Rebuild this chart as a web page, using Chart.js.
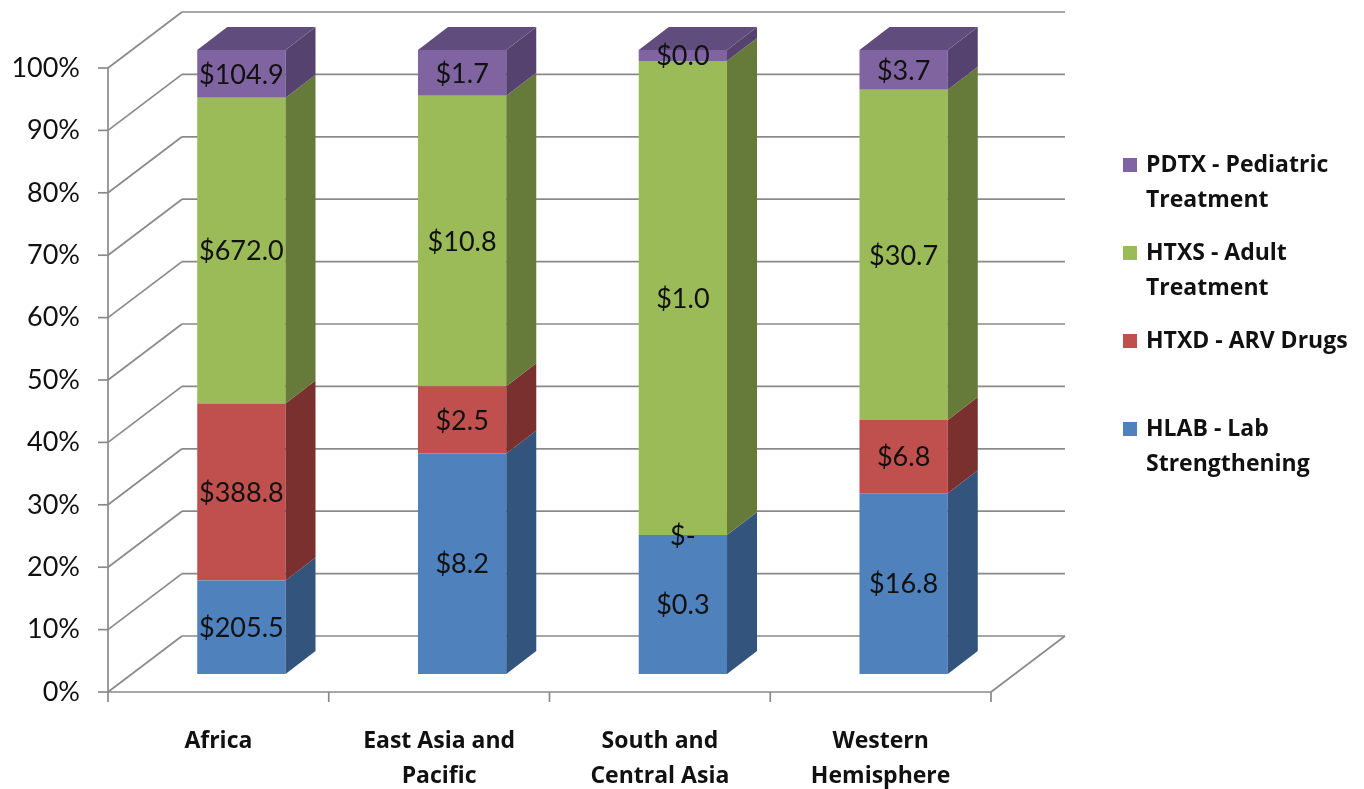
<!DOCTYPE html>
<html>
<head>
<meta charset="utf-8">
<script src="https://cdn.jsdelivr.net/npm/chart.js@4"></script>
<style>
  html, body { margin: 0; padding: 0; background: #fff; }
  canvas { display: block; }
</style>
</head>
<body>
<canvas id="chart" width="1364" height="789"></canvas>
<script>
// Spending by region, US$ millions, shown as share of each region's total
const regions = [['Africa'], ['East Asia and', 'Pacific'], ['South and', 'Central Asia'], ['Western', 'Hemisphere']];
const hlab = [205.5, 8.2, 0.29, 16.8];
const htxd = [388.8, 2.5, 0, 6.8];
const htxs = [672.0, 10.8, 0.99, 30.7];
const pdtx = [104.9, 1.7, 0.023, 3.7];
const seriesNames = [['HLAB - Lab', 'Strengthening'], ['HTXD - ARV Drugs'], ['HTXS - Adult', 'Treatment'], ['PDTX - Pediatric', 'Treatment']];

const faceColors = ['#4f81bd', '#c0504d', '#9bbb59', '#8064a2'];
const sideColors = ['#33557d', '#7a302e', '#667a3a', '#55426f'];
const topColor = '#614d7d';

const FONT = 'Lato, "Open Sans", sans-serif';
const BOLD_FONT = '"Open Sans", Lato, sans-serif';
const TEXT = '#111';
const GRID = '#8a8a8a';

// bar plane -> front wall, front wall -> back wall, bar front -> bar back
const FRONT = { dx: -23, dy: 18 };
const DEPTH = { dx: 74, dy: -56 };
const BAR = { dx: 30, dy: -23 };

const raw = [hlab, htxd, htxs, pdtx];
const totals = regions.map((r, i) => raw.reduce((s, arr) => s + arr[i], 0));
const share = arr => arr.map((v, i) => v / totals[i] * 100);

function line(ctx, x1, y1, x2, y2) {
    ctx.beginPath();
    ctx.moveTo(x1, y1);
    ctx.lineTo(x2, y2);
    ctx.stroke();
}

function poly(ctx, pts, fill) {
    ctx.beginPath();
    ctx.moveTo(pts[0][0], pts[0][1]);
    for (let i = 1; i < pts.length; i++) ctx.lineTo(pts[i][0], pts[i][1]);
    ctx.closePath();
    ctx.fillStyle = fill;
    ctx.fill();
}

const walls = {
    id: 'walls',
    beforeDatasetsDraw(chart) {
        const { ctx, chartArea: a, scales: { x, y } } = chart;
        const left = a.left + FRONT.dx, right = a.right + FRONT.dx;
        ctx.save();
        ctx.strokeStyle = GRID;
        ctx.lineWidth = 1.7;
        y.ticks.forEach(t => {
            const fy = y.getPixelForValue(t.value) + FRONT.dy;
            line(ctx, left, fy, left + DEPTH.dx, fy + DEPTH.dy);
            line(ctx, left + DEPTH.dx, fy + DEPTH.dy, right + DEPTH.dx, fy + DEPTH.dy);
            line(ctx, left - 10, fy, left, fy);
        });
        const f0 = y.getPixelForValue(0) + FRONT.dy;
        const f100 = y.getPixelForValue(100) + FRONT.dy;
        line(ctx, left, f100, left, f0);
        line(ctx, left, f0, right, f0);
        line(ctx, right, f0, right + DEPTH.dx, f0 + DEPTH.dy);
        for (let i = 0; i <= regions.length; i++) {
            const px = x.getPixelForValue(i - 0.5) + FRONT.dx;
            line(ctx, px, f0, px, f0 + 10);
        }
        ctx.restore();
    },
    afterDatasetsDraw(chart) {
        const ctx = chart.ctx;
        const last = chart.data.datasets.length - 1;
        ctx.save();
        chart.data.datasets.forEach((ds, di) => {
            chart.getDatasetMeta(di).data.forEach(bar => {
                const r = bar.x + bar.width / 2, l = bar.x - bar.width / 2;
                poly(ctx, [[r, bar.y], [r + BAR.dx, bar.y + BAR.dy], [r + BAR.dx, bar.base + BAR.dy], [r, bar.base]], sideColors[di]);
                if (di === last) {
                    poly(ctx, [[l, bar.y], [l + BAR.dx, bar.y + BAR.dy], [r + BAR.dx, bar.y + BAR.dy], [r, bar.y]], topColor);
                }
            });
        });
        // value labels in the middle of each front face
        ctx.font = '27px ' + FONT;
        ctx.fillStyle = TEXT;
        ctx.textAlign = 'center';
        ctx.textBaseline = 'middle';
        chart.data.datasets.forEach((ds, di) => {
            chart.getDatasetMeta(di).data.forEach((bar, i) => {
                const v = raw[di][i];
                const txt = v === 0 ? '$-' : '$' + v.toFixed(1);
                ctx.fillText(txt, bar.x, (bar.y + bar.base) / 2 + 1);
            });
        });
        ctx.restore();
    },
    afterDraw(chart) {
        const ctx = chart.ctx;
        ctx.save();
        ctx.font = 'bold 23px ' + BOLD_FONT;
        ctx.textAlign = 'left';
        ctx.textBaseline = 'middle';
        const order = chart.data.datasets.map((d, i) => i).reverse();
        order.forEach((di, k) => {
            const cy = 165 + k * 88;
            ctx.fillStyle = faceColors[di];
            ctx.fillRect(1123, cy - 7, 14, 14);
            ctx.fillStyle = TEXT;
            chart.data.datasets[di].label.forEach((t, j) => ctx.fillText(t, 1146, cy + j * 35));
        });
        ctx.restore();
    }
};

new Chart(document.getElementById('chart'), {
    type: 'bar',
    data: {
        labels: regions,
        datasets: raw.map((arr, i) => ({
            label: seriesNames[i],
            data: share(arr),
            backgroundColor: faceColors[i],
            borderWidth: 0,
            categoryPercentage: 0.4,
            barPercentage: 1
        }))
    },
    options: {
        responsive: false,
        animation: false,
        devicePixelRatio: 1,
        layout: { padding: { top: 50, right: 350, left: 0, bottom: 0 } },
        plugins: { legend: { display: false }, tooltip: { enabled: false } },
        scales: {
            x: {
                stacked: true,
                grid: { display: false, drawTicks: false },
                border: { display: false },
                ticks: { labelOffset: FRONT.dx, padding: 50, color: TEXT, font: { family: BOLD_FONT, size: 23, weight: 'bold', lineHeight: 1.52 } },
                afterFit: s => { s.height = 115; s.paddingLeft = 0; s.paddingRight = 0; }
            },
            y: {
                stacked: true,
                min: 0,
                max: 100,
                grid: { display: false, drawTicks: false },
                border: { display: false },
                ticks: { stepSize: 10, padding: 51, labelOffset: FRONT.dy, color: TEXT, font: { family: FONT, size: 27 }, callback: v => v + '%' },
                afterFit: s => { s.width = 131; s.paddingTop = 0; s.paddingBottom = 0; }
            }
        }
    },
    plugins: [walls]
});
</script>
</body>
</html>
